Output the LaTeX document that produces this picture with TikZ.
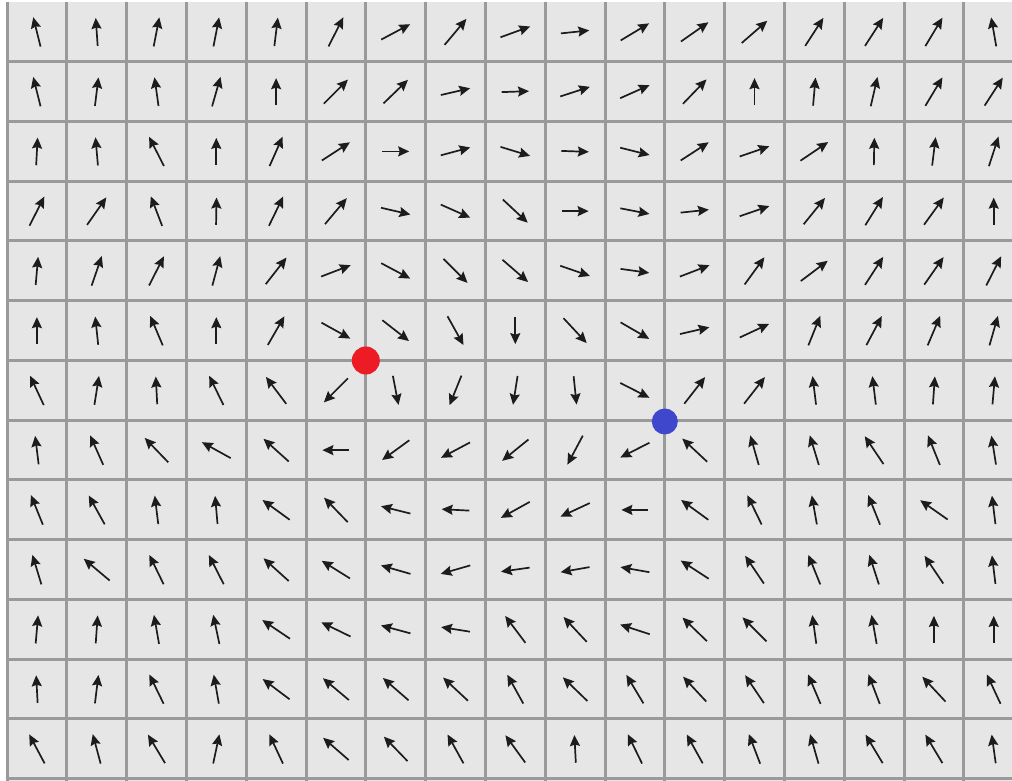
\documentclass[tikz,border=0pt]{standalone}
\usetikzlibrary{arrows.meta}
\definecolor{cellgray}{HTML}{E6E6E6}
\definecolor{linegray}{HTML}{9A9A9A}
\definecolor{arrowblack}{HTML}{1C1C1C}
\definecolor{dotred}{HTML}{ED1C24}
\definecolor{dotblue}{HTML}{3F48CC}
\tikzset{
  gridline/.style={linegray,line width=3pt},
  fieldarrow/.style={->,arrowblack,line width=1.7pt},
  dot/.style={circle,inner sep=0pt,minimum size=#1}
}
\begin{document}
\begin{tikzpicture}[x=1pt,y=1pt,line join=round,>={Stealth[length=11pt,width=10pt,inset=1.5pt]}]
\useasboundingbox (0,0) rectangle (1012,781);
\fill[white] (0,0) rectangle (1012,781);
\fill[cellgray] (7,0) rectangle (1012,779);
% cell borders
\foreach \i in {0,...,16}
  \draw[gridline] (7+59.8*\i,0) -- (7+59.8*\i,779);
\foreach \j in {1,...,13}
  \draw[gridline] (5.5,779-59.75*\j) -- (1012,779-59.75*\j);
% one row of directions per line, top to bottom
\foreach \row [count=\r from 0] in {
  {104,94,79,79,83,63,28,50,20,6,31,35,41,57,57,59,100},
  {104,83,98,74,90,45,44,13,2,18,24,46,90,85,77,59,57},
  {87,95,117,90,66,33,0,15,-17,-2,-14,33,19,34,89,83,72},
  {63,55,111,89,64,50,-13,-24,-43,0,-11,6,19,51,58,54,90},
  {85,71,63,75,52,21,-28,-45,-41,-19,-8,21,54,37,57,55,63},
  {90,96,113,90,60,-29,-38,-61,-90,-47,-30,13,25,68,62,67,74},
  {115,81,93,116,127,225,-79,248,261,-84,-27,52,52,97,97,86,85},
  {97,114,134,151,138,180,216,208,219,242,207,137,106,107,124,112,99},
  {112,119,97,95,144,134,166,177,209,205,180,144,116,100,112,145,97},
  {107,140,116,117,138,148,164,196,188,190,170,147,124,112,108,124,97},
  {85,86,100,102,146,154,165,171,127,133,162,136,135,98,100,90,90},
  {93,83,116,100,143,140,139,137,119,136,121,133,124,113,111,133,115},
  {118,105,121,78,115,139,134,119,126,93,116,119,111,106,121,121,98}}
  \foreach \a [count=\c from 0] in \row {
    \pgfmathsetmacro\half{13.5+3.5*abs(sin(2*\a))}
    \draw[fieldarrow] (7+59.8*\c+29.9,779-59.75*\r-29.9) ++(\a+180:\half) -- ++(\a:2*\half);
  }
% the two charges
\node[dot=28pt,fill=dotred] (red) at (365.8,420.5) {};
\node[dot=26pt,fill=dotblue] (blue) at (664.8,359.5) {};
\end{tikzpicture}
\end{document}
